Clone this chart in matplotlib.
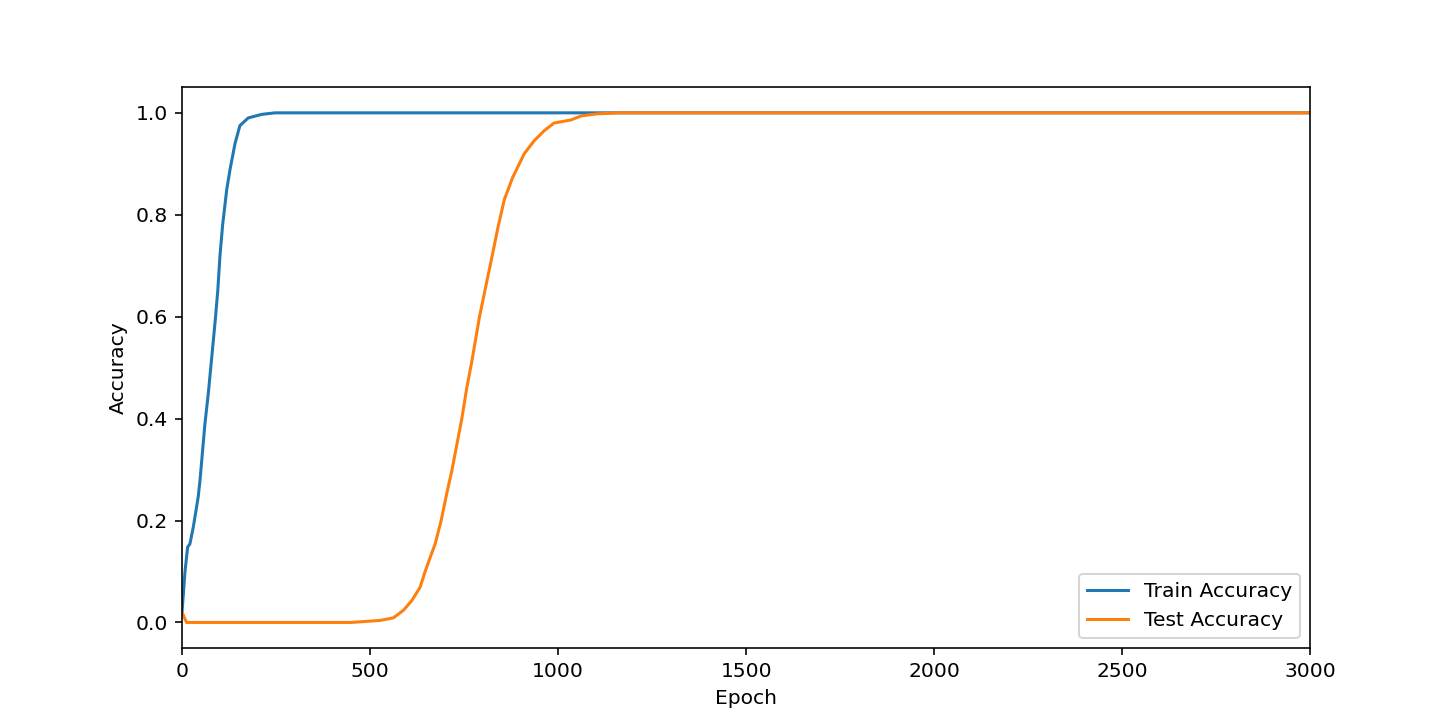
import matplotlib
matplotlib.use("Agg")
import matplotlib.pyplot as plt

# Train accuracy
train_epochs = [0, 8, 15, 21, 30, 43, 48, 61, 70, 79, 88, 95, 101, 108, 119, 128,
                141, 154, 176, 212, 247, 3000]
train_acc = [0.02, 0.10, 0.148, 0.154, 0.187, 0.246, 0.28, 0.39, 0.45, 0.52, 0.59,
             0.65, 0.72, 0.78, 0.85, 0.89, 0.94, 0.975, 0.99, 0.997, 1.0, 1.0]

# Test accuracy
test_epochs = [0, 12, 450, 527, 562, 589, 611, 633, 646, 660, 673, 689, 703, 718,
               744, 757, 770, 791, 805, 822, 840, 857, 879, 910, 936, 963, 989,
               1034, 1061, 1103, 1160, 3000]
test_acc = [0.02, 0.0, 0.0, 0.004, 0.009, 0.024, 0.043, 0.069, 0.099, 0.128, 0.154,
            0.20, 0.25, 0.30, 0.40, 0.46, 0.51, 0.60, 0.65, 0.71, 0.775, 0.83, 0.873,
            0.92, 0.945, 0.965, 0.98, 0.986, 0.994, 0.998, 1.0, 1.0]

fig, ax = plt.subplots(figsize=(10, 5), dpi=145.6)
ax.plot(train_epochs, train_acc, label="Train Accuracy")
ax.plot(test_epochs, test_acc, label="Test Accuracy")
ax.set_xlim(0, 3000)
ax.set_xlabel("Epoch")
ax.set_ylabel("Accuracy")
ax.legend(loc="lower right")

fig.savefig("out.png", dpi=145.6)
